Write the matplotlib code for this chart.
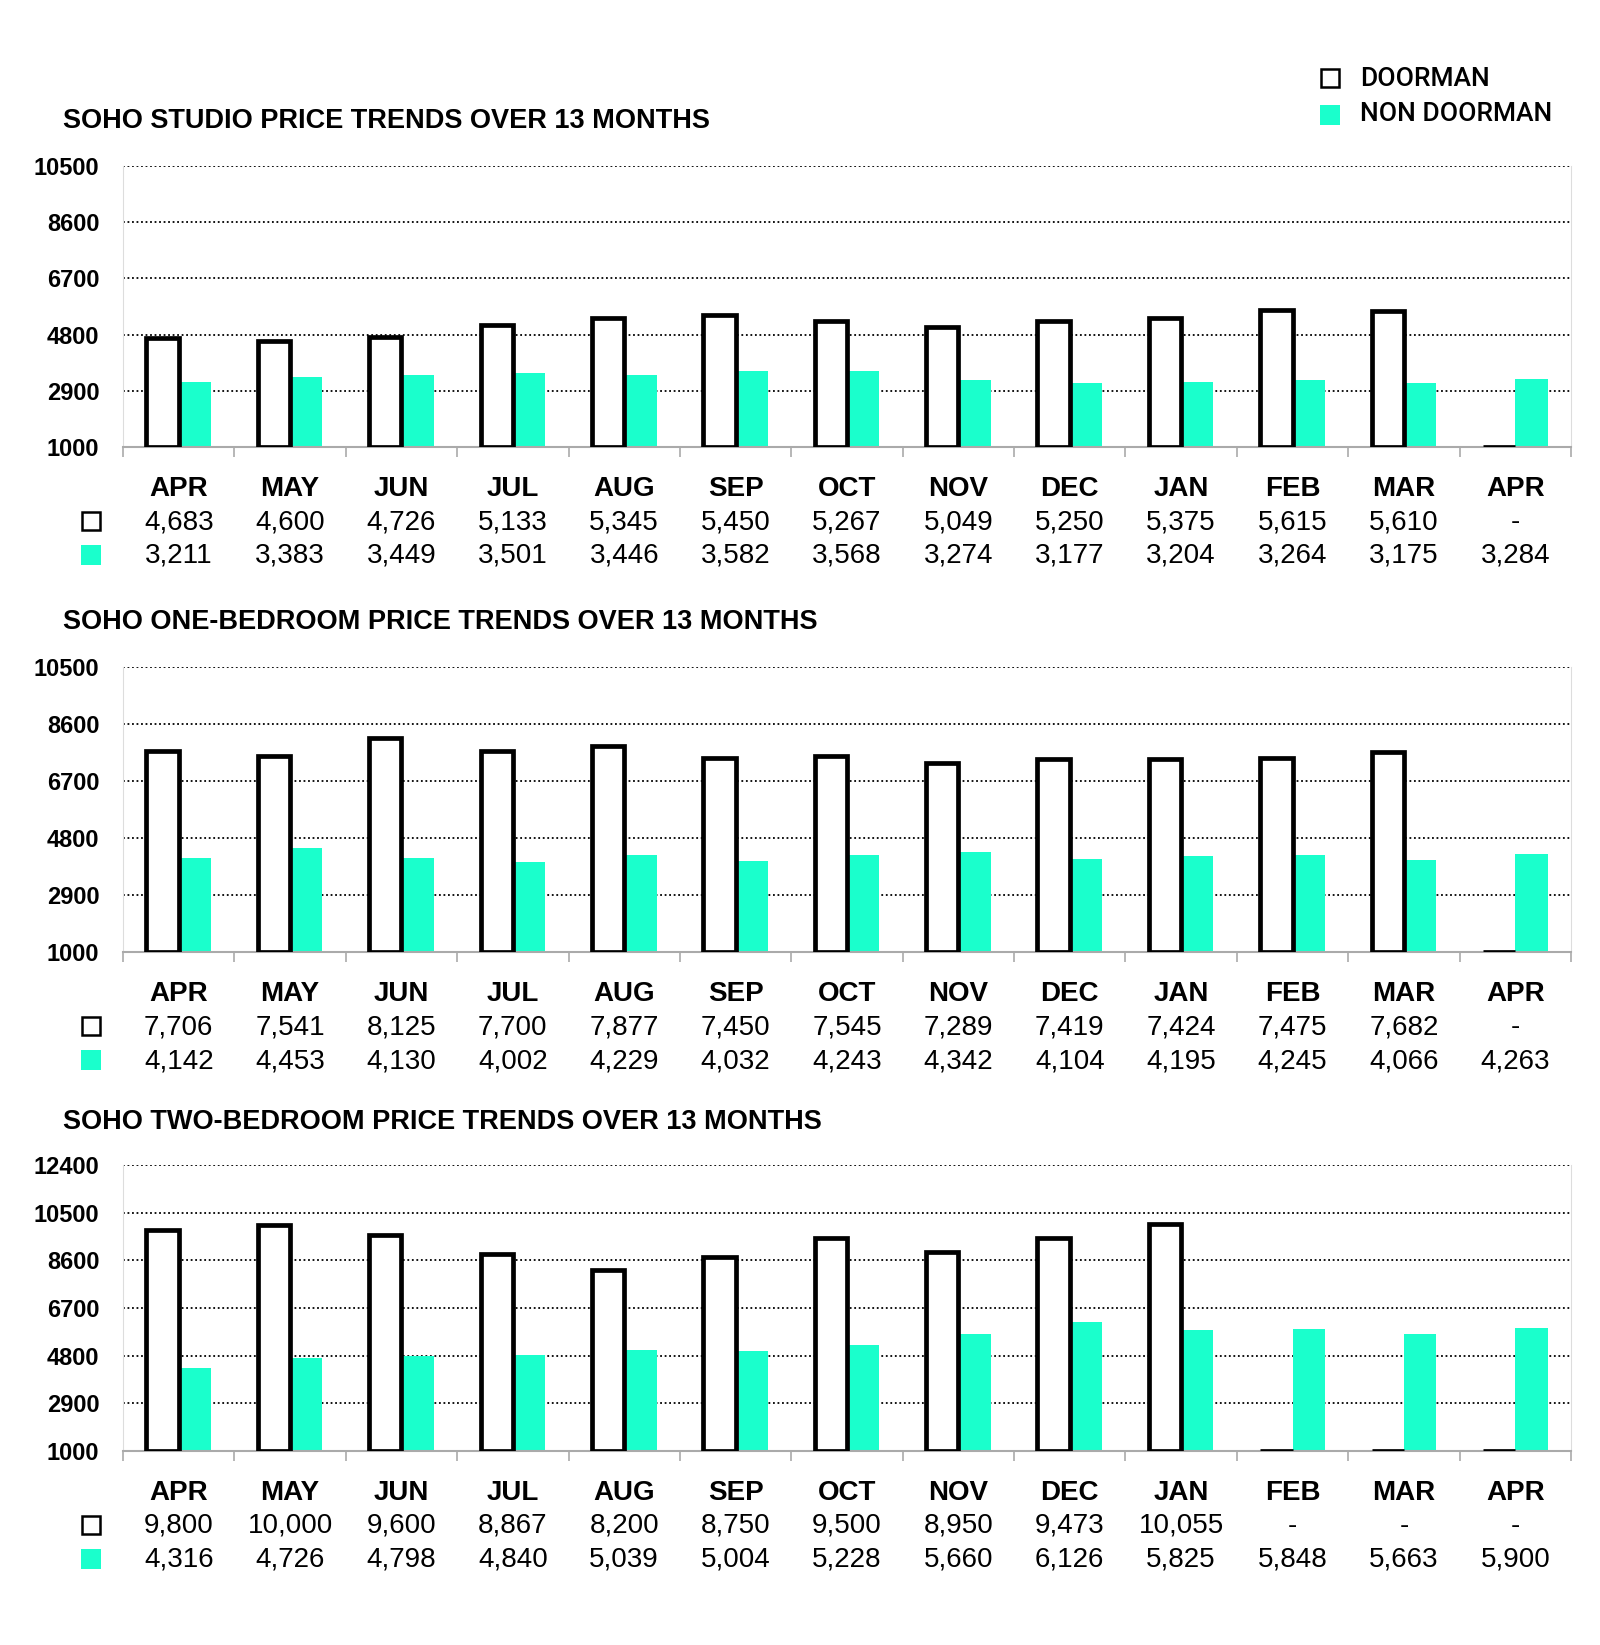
import matplotlib
matplotlib.use('Agg')
from matplotlib import pyplot as plt
from matplotlib.patches import Rectangle
from matplotlib.transforms import blended_transform_factory
import numpy as np

months = ['APR', 'MAY', 'JUN', 'JUL', 'AUG', 'SEP', 'OCT', 'NOV', 'DEC', 'JAN', 'FEB', 'MAR', 'APR']

studio_doorman = [4683, 4600, 4726, 5133, 5345, 5450, 5267, 5049, 5250, 5375, 5615, 5610, None]
studio_non = [3211, 3383, 3449, 3501, 3446, 3582, 3568, 3274, 3177, 3204, 3264, 3175, 3284]

onebed_doorman = [7706, 7541, 8125, 7700, 7877, 7450, 7545, 7289, 7419, 7424, 7475, 7682, None]
onebed_non = [4142, 4453, 4130, 4002, 4229, 4032, 4243, 4342, 4104, 4195, 4245, 4066, 4263]

twobed_doorman = [9800, 10000, 9600, 8867, 8200, 8750, 9500, 8950, 9473, 10055, None, None, None]
twobed_non = [4316, 4726, 4798, 4840, 5039, 5004, 5228, 5660, 6126, 5825, 5848, 5663, 5900]

titles = ['SOHO STUDIO PRICE TRENDS OVER 13 MONTHS',
          'SOHO ONE-BEDROOM PRICE TRENDS OVER 13 MONTHS',
          'SOHO TWO-BEDROOM PRICE TRENDS OVER 13 MONTHS']
yticks_small = [1000, 2900, 4800, 6700, 8600, 10500]
yticks_big = [1000, 2900, 4800, 6700, 8600, 10500, 12400]

CYAN = '#1affcc'
W, H = 1600, 1645

fig = plt.figure(figsize=(16, 16.45), dpi=100)


def fy(py):
    # pixel row from top -> figure fraction
    return 1 - py / H


def fmt(v):
    return '-' if v is None else '{:,}'.format(v)


def panel(top, bottom, title_y, doorman, non, yticks, title):
    ax = fig.add_axes([123 / W, fy(bottom), 1448 / W, (bottom - top) / H])
    x = np.arange(len(months))
    d = [1000 if v is None else v for v in doorman]
    ax.bar(x, np.array(non) - 1000, bottom=1000, width=0.29, align='edge',
           color=CYAN, zorder=2)
    ax.bar(x - 0.29, np.array(d) - 1000, bottom=1000, width=0.29, align='edge',
           facecolor='white', edgecolor='black', linewidth=3.4, zorder=3)
    ax.set_xlim(-0.5, len(months) - 0.5)
    ax.set_ylim(yticks[0], yticks[-1])
    ax.set_yticks(yticks)
    ax.set_yticklabels([str(t) for t in yticks], fontsize=17, fontweight='bold',
                       family='Liberation Sans')
    ax.tick_params(axis='y', length=0, pad=17)
    for t in yticks[1:]:
        ax.axhline(t, color='black', linestyle=(0, (1, 1.5)), linewidth=1.3, zorder=1)
    ax.set_xticks(np.arange(-0.5, len(months), 1))
    ax.set_xticklabels([])
    ax.tick_params(axis='x', length=7, color='#aaaaaa', width=1.2)
    ax.spines['top'].set_visible(False)
    ax.spines['left'].set_color('#dddddd')
    ax.spines['right'].set_color('#dddddd')
    ax.spines['bottom'].set_color('#aaaaaa')
    ax.spines['bottom'].set_linewidth(1.5)

    fig.text(63 / W, fy(title_y), title, fontsize=19.5, fontweight='bold',
             family='Liberation Sans', va='center', ha='left')

    tr = blended_transform_factory(ax.transData, fig.transFigure)
    for i, m in enumerate(months):
        ax.text(i, fy(bottom + 42), m, transform=tr, ha='center', va='center',
                fontsize=20, fontweight='bold', family='Liberation Sans')
        ax.text(i, fy(bottom + 75), fmt(doorman[i]), transform=tr, ha='center',
                va='center', fontsize=20, family='Liberation Sans')
        ax.text(i, fy(bottom + 109), fmt(non[i]), transform=tr, ha='center',
                va='center', fontsize=20, family='Liberation Sans')
    s = 18
    fig.add_artist(Rectangle((82 / W, fy(bottom + 74 + s / 2)), s / W, s / H,
                             transform=fig.transFigure, facecolor='white',
                             edgecolor='black', linewidth=1.8))
    fig.add_artist(Rectangle((81 / W, fy(bottom + 108 + 10)), 20 / W, 20 / H,
                             transform=fig.transFigure, facecolor=CYAN,
                             edgecolor='none'))
    return ax


panel(166, 447, 121, studio_doorman, studio_non, yticks_small, titles[0])
panel(667, 952, 622, onebed_doorman, onebed_non, yticks_small, titles[1])
panel(1165, 1451, 1122, twobed_doorman, twobed_non, yticks_big, titles[2])

# legend
fig.add_artist(Rectangle((1321 / W, fy(87)), 18 / W, 18 / H, transform=fig.transFigure,
                         facecolor='white', edgecolor='black', linewidth=1.8))
fig.add_artist(Rectangle((1320 / W, fy(125)), 20 / W, 20 / H, transform=fig.transFigure,
                         facecolor=CYAN, edgecolor='none'))
fig.text(1360 / W, fy(79), 'DOORMAN', fontsize=19, fontweight='medium',
         family='Roboto', va='center', ha='left')
fig.text(1360 / W, fy(114), 'NON DOORMAN', fontsize=19, fontweight='medium',
         family='Roboto', va='center', ha='left')

fig.savefig('out.png', dpi=100, facecolor='white')
